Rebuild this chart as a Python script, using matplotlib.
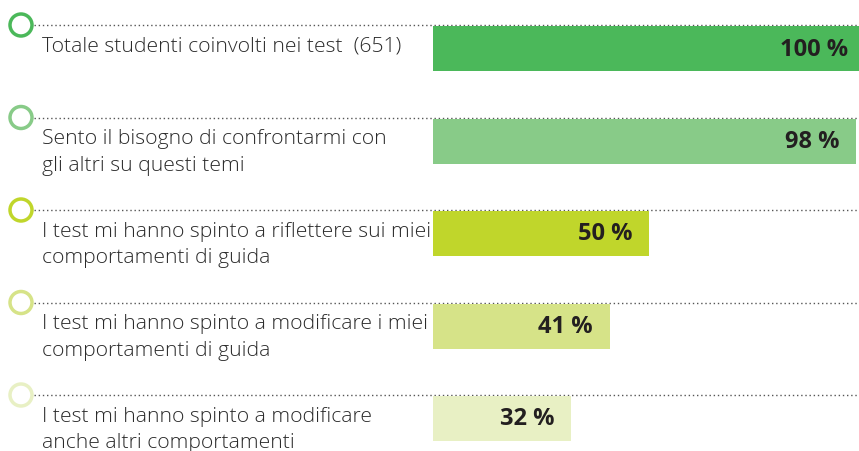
import matplotlib.pyplot as plt
from matplotlib.patches import Circle

# --- DATA ---
labels = [
    ["Totale studenti coinvolti nei test  (651)"],
    ["Sento il bisogno di confrontarmi con", "gli altri su questi temi"],
    ["I test mi hanno spinto a riflettere sui miei", "comportamenti di guida"],
    ["I test mi hanno spinto a modificare i miei", "comportamenti di guida"],
    ["I test mi hanno spinto a modificare", "anche altri comportamenti"],
]
values = [100, 98, 50, 41, 32]
value_labels = ["100 %", "98 %", "50 %", "41 %", "32 %"]
colors = ["#4bb85a", "#88cb88", "#c0d62b", "#d6e388", "#e8f0c4"]

# --- LAYOUT (pixels) ---
W, H = 859, 452
ROW_Y0, ROW_STEP = 26, 92.5
BAR_H = 45
BAR_X0 = 433
PX_PER_PCT = 4.32

plt.rcParams['font.family'] = ['Open Sans', 'DejaVu Sans']
fig = plt.figure(figsize=(W / 100, H / 100), dpi=100)

# background axes in pixel coordinates: circles, dotted rules, labels
bg = fig.add_axes([0, 0, 1, 1])
bg.set_xlim(0, W)
bg.set_ylim(H, 0)
bg.axis('off')

# bar axes: x in percent, y in pixels
ax = fig.add_axes([BAR_X0 / W, 0, (W - BAR_X0) / W, 1])
ax.set_xlim(0, (W - BAR_X0) / PX_PER_PCT)
ax.set_ylim(H, 0)
ax.axis('off')

for i, (lab, val, vlab, col) in enumerate(zip(labels, values, value_labels, colors)):
    y = ROW_Y0 + ROW_STEP * i
    bg.add_patch(Circle((21, y), 11, fill=False, edgecolor=col, linewidth=2.5))
    bg.plot([34, W], [y, y], color='#555555', linewidth=1, linestyle=(0, (1, 2)))
    for j, line in enumerate(lab):
        bg.text(42, y + 26 + 26.5 * j, line, fontsize=15.2, color='#2b2b2b',
                fontweight='light', va='baseline', ha='left')
    ax.barh(y + 1 + BAR_H / 2, val, height=BAR_H, left=0, color=col, edgecolor='none')
    ax.text(val - 17 / PX_PER_PCT, y + 1 + BAR_H / 2, vlab, fontsize=17,
            fontweight='bold', color='#231f20', ha='right', va='center')

fig.savefig('out.png', dpi=100)
